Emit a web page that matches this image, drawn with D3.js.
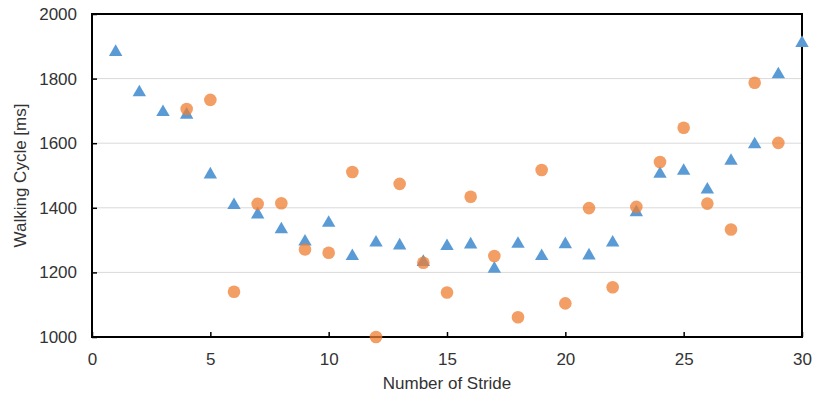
<!DOCTYPE html>
<html>
<head>
<meta charset="utf-8">
<script src="https://cdn.jsdelivr.net/npm/d3@7"></script>
<style>
  body { margin: 0; background: #fff; }
  svg { display: block; font-family: "Liberation Sans", Arial, sans-serif; }
</style>
</head>
<body>
<div id="chart"></div>
<script>
// stride numbers and walking cycle values (ms)
var strideA = d3.range(1, 31);
var cycleA = [1882, 1757, 1696, 1688, 1503, 1408, 1379, 1333, 1295, 1353,
  1250, 1292, 1283, 1232, 1281, 1286, 1211, 1288, 1250, 1287,
  1252, 1292, 1386, 1505, 1514, 1456, 1545, 1596, 1813, 1910];

var strideB = d3.range(4, 30);
var cycleB = [1706, 1734, 1140, 1412, 1414, 1271, 1261, 1511, 1000, 1474,
  1230, 1138, 1434, 1251, 1061, 1517, 1104, 1399, 1154, 1403,
  1542, 1648, 1413, 1333, 1787, 1601];

var xTicks = [0, 5, 10, 15, 20, 25, 30];
var yTicks = [1000, 1200, 1400, 1600, 1800, 2000];

var W = 814, H = 396;
var margin = {top: 14, right: 12, bottom: 59, left: 92};
var width = W - margin.left - margin.right;
var height = H - margin.top - margin.bottom;

var svg = d3.select("#chart").append("svg")
  .attr("width", W)
  .attr("height", H);

var g = svg.append("g")
  .attr("transform", "translate(" + margin.left + "," + margin.top + ")");

var x = d3.scaleLinear().domain([0, 30]).range([0, width]);
var y = d3.scaleLinear().domain([1000, 2000]).range([height, 0]);

// horizontal grid lines
g.selectAll(".grid")
  .data(yTicks.slice(1, -1))
  .enter().append("line")
  .attr("x1", 0)
  .attr("x2", width)
  .attr("y1", function(d) { return y(d); })
  .attr("y2", function(d) { return y(d); })
  .attr("stroke", "#d9d9d9")
  .attr("stroke-width", 1);

// axes, ticks pointing inward
var xAxis = g.append("g")
  .attr("transform", "translate(0," + height + ")")
  .call(d3.axisBottom(x).tickValues(xTicks).tickSizeInner(-5).tickSizeOuter(0).tickPadding(16));

var yAxis = g.append("g")
  .call(d3.axisLeft(y).tickValues(yTicks).tickSizeInner(-5).tickSizeOuter(0).tickPadding(15).tickFormat(d3.format("d")));

[xAxis, yAxis].forEach(function(a) {
  a.select(".domain").remove();
  a.selectAll(".tick line").attr("stroke", "#000").attr("stroke-width", 1.5);
  a.selectAll(".tick text")
    .attr("fill", "#333")
    .style("font-size", "17px")
    .style("font-family", "'Liberation Sans', Arial, sans-serif");
});

// plot frame
g.append("rect")
  .attr("x", 0)
  .attr("y", 0)
  .attr("width", width)
  .attr("height", height)
  .attr("fill", "none")
  .attr("stroke", "#000")
  .attr("stroke-width", 2);

// triangles
g.selectAll(".tri")
  .data(strideA)
  .enter().append("path")
  .attr("class", "tri")
  .attr("d", d3.symbol().type(d3.symbolTriangle).size(78))
  .attr("transform", function(d, i) { return "translate(" + x(d) + "," + y(cycleA[i]) + ")"; })
  .attr("fill", "#5b9bd5");

// circles
g.selectAll(".dot")
  .data(strideB)
  .enter().append("circle")
  .attr("class", "dot")
  .attr("cx", function(d) { return x(d); })
  .attr("cy", function(d, i) { return y(cycleB[i]); })
  .attr("r", 6.3)
  .attr("fill", "#ed7d31")
  .attr("fill-opacity", 0.75);

// axis titles
svg.append("text")
  .attr("x", margin.left + width / 2)
  .attr("y", 389)
  .attr("text-anchor", "middle")
  .attr("fill", "#333")
  .style("font-size", "17px")
  .text("Number of Stride");

svg.append("text")
  .attr("transform", "translate(26," + (margin.top + height / 2) + ") rotate(-90)")
  .attr("text-anchor", "middle")
  .attr("fill", "#333")
  .style("font-size", "17px")
  .text("Walking Cycle [ms]");
</script>
</body>
</html>
